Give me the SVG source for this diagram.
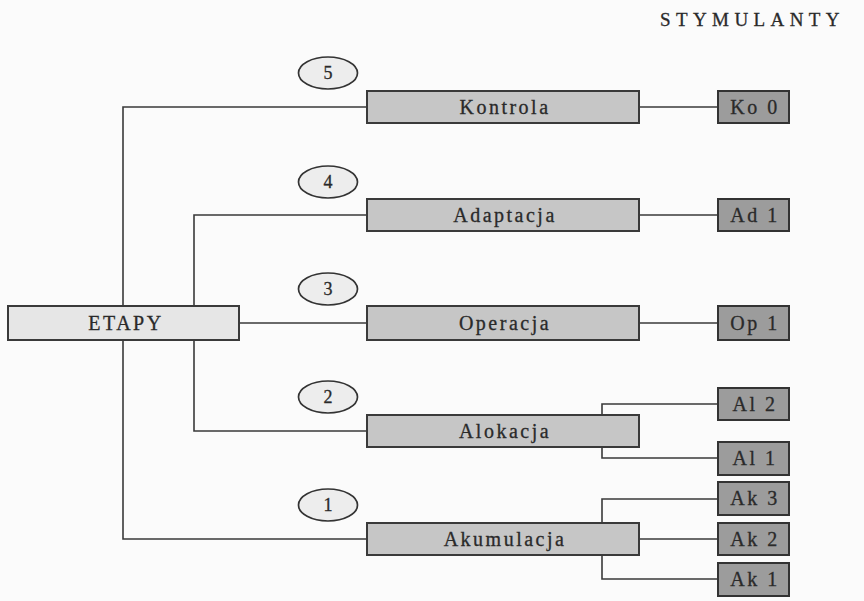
<svg xmlns="http://www.w3.org/2000/svg" width="864" height="601" viewBox="0 0 864 601">
<style>
.bg{fill:#fbfbfb}
.etapy{fill:#e6e6e6;stroke:#3a3a3a;stroke-width:2}
.main{fill:#c6c6c6;stroke:#3a3a3a;stroke-width:2}
.small{fill:#9c9c9c;stroke:#333;stroke-width:2}
.num{fill:#ededed;stroke:#333;stroke-width:1.7}
.conn{fill:none;stroke:#3a3a3a;stroke-width:1.6}
text{font-family:"Liberation Serif","Times New Roman",serif;fill:#2a2a2a;text-anchor:middle;stroke:#2a2a2a;stroke-width:0.3}
.lbl{font-size:20px;letter-spacing:2.5px}
.sl{font-size:20px;letter-spacing:2.5px}
.n{font-size:18px;letter-spacing:0}
.title{font-size:19px;letter-spacing:5.4px;text-anchor:start}
</style>
<rect class="bg" x="0" y="0" width="864" height="601"/>
<text class="title" x="660" y="26">STYMULANTY</text>
<g id="connectors">
<path class="conn" d="M123,306 V107 H367"/>
<path class="conn" d="M123,340 V539 H367"/>
<path class="conn" d="M194,306 V215 H367"/>
<path class="conn" d="M194,340 V431 H367"/>
<path class="conn" d="M239,323 H367"/>
<path class="conn" d="M639,107 H718"/>
<path class="conn" d="M639,215 H718"/>
<path class="conn" d="M639,323 H718"/>
<path class="conn" d="M602,415 V404 H718"/>
<path class="conn" d="M602,447 V458 H718"/>
<path class="conn" d="M602,523 V499 H718"/>
<path class="conn" d="M639,539 H718"/>
<path class="conn" d="M602,555 V579 H718"/>
</g>
<g id="etapy"><rect class="etapy" x="8" y="306" width="231" height="34"/><text class="lbl" x="126" y="330">ETAPY</text></g>
<g id="n5"><ellipse class="num" cx="328" cy="73" rx="29.5" ry="16"/><text class="n" x="328" y="79">5</text></g>
<g id="n4"><ellipse class="num" cx="328" cy="182" rx="29.5" ry="16"/><text class="n" x="328" y="188">4</text></g>
<g id="n3"><ellipse class="num" cx="328" cy="289" rx="29.5" ry="16"/><text class="n" x="328" y="295">3</text></g>
<g id="n2"><ellipse class="num" cx="328" cy="397" rx="29.5" ry="16"/><text class="n" x="328" y="403">2</text></g>
<g id="n1"><ellipse class="num" cx="328" cy="505" rx="29.5" ry="16"/><text class="n" x="328" y="511">1</text></g>
<g id="kontrola"><rect class="main" x="367" y="91" width="272" height="32"/><text class="lbl" x="505" y="114">Kontrola</text></g>
<g id="adaptacja"><rect class="main" x="367" y="199" width="272" height="32"/><text class="lbl" x="505" y="222">Adaptacja</text></g>
<g id="operacja"><rect class="main" x="367" y="306" width="272" height="34"/><text class="lbl" x="505" y="330">Operacja</text></g>
<g id="alokacja"><rect class="main" x="367" y="415" width="272" height="32"/><text class="lbl" x="505" y="438">Alokacja</text></g>
<g id="akumulacja"><rect class="main" x="367" y="523" width="272" height="32"/><text class="lbl" x="505" y="546">Akumulacja</text></g>
<g id="ko0"><rect class="small" x="718" y="91" width="71" height="32"/><text class="sl" x="755" y="114">Ko 0</text></g>
<g id="ad1"><rect class="small" x="718" y="199" width="71" height="32"/><text class="sl" x="755" y="222">Ad 1</text></g>
<g id="op1"><rect class="small" x="718" y="306" width="71" height="34"/><text class="sl" x="755" y="330">Op 1</text></g>
<g id="al2"><rect class="small" x="718" y="388" width="71" height="32"/><text class="sl" x="755" y="411">Al 2</text></g>
<g id="al1"><rect class="small" x="718" y="442" width="71" height="33"/><text class="sl" x="755" y="465">Al 1</text></g>
<g id="ak3"><rect class="small" x="718" y="482" width="71" height="33"/><text class="sl" x="755" y="505">Ak 3</text></g>
<g id="ak2"><rect class="small" x="718" y="523" width="71" height="32"/><text class="sl" x="755" y="546">Ak 2</text></g>
<g id="ak1"><rect class="small" x="718" y="563" width="71" height="33"/><text class="sl" x="755" y="586">Ak 1</text></g>
</svg>
